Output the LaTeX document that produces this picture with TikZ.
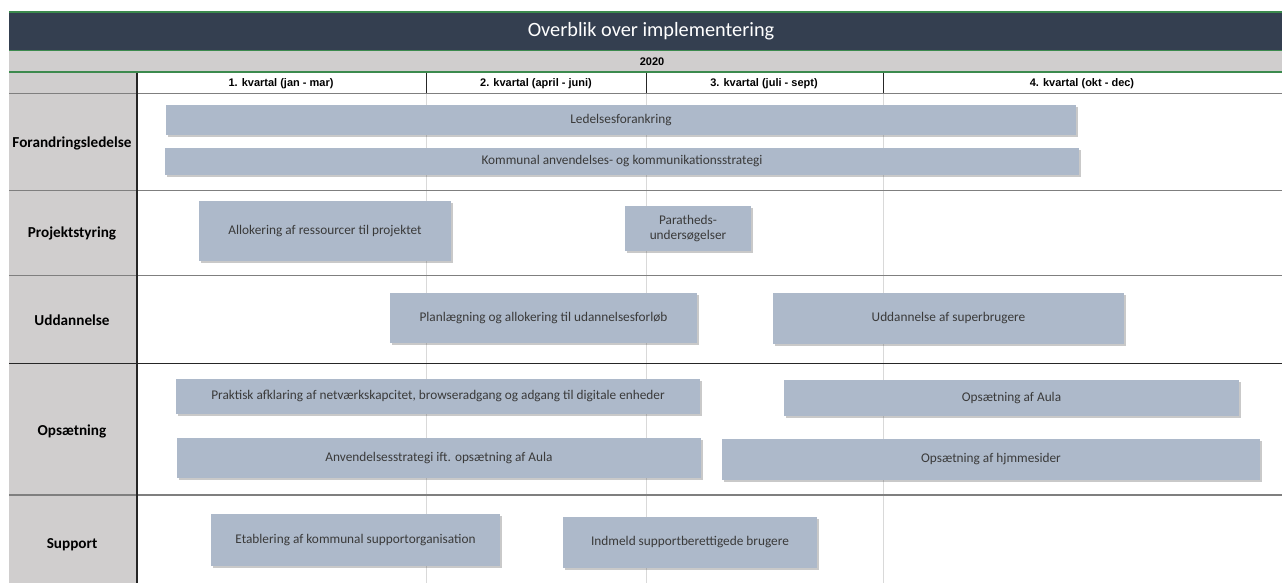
\documentclass[tikz,border=0pt]{standalone}
\usepackage{fontspec}
\setmainfont{Carlito}
\newfontfamily\hdrfont{Liberation Sans}
\usetikzlibrary{shadows}
\definecolor{titlebg}{HTML}{343F50}
\definecolor{gline}{HTML}{3C8A4E}
\definecolor{greybg}{HTML}{D0CECE}
\definecolor{barfill}{HTML}{ADB9CA}
\definecolor{bartext}{HTML}{3A3A3A}
\definecolor{rowline}{HTML}{7F7F7F}
\definecolor{vline}{HTML}{D9D9D9}
\tikzset{
  barbox/.style={draw=none, fill=barfill, inner sep=0pt, align=center, text=bartext,
    font=\fontsize{13.3}{15.5}\selectfont,
    drop shadow={shadow xshift=1.5pt, shadow yshift=-1.8pt, opacity=0.3, fill=black!70}},
  rowlabel/.style={font=\bfseries\fontsize{15.2}{17}\selectfont, text=black, inner sep=0pt},
  qlabel/.style={font=\hdrfont\bfseries\fontsize{11}{12}\selectfont, inner sep=0pt},
  glinestyle/.style={draw=gline, line width=1.4pt},
  rowsep/.style={draw=rowline, line width=1.8pt},
  qsep/.style={draw=vline, line width=1pt}
}
\newcommand{\gbar}[6]{%
  \node[barbox, minimum width={(#4)-(#2)}, minimum height={(#5)-(#3)}] (#1)
    at ({((#2)+(#4))/2},{((#3)+(#5))/2+0.8}) {#6};}
\begin{document}
\begin{tikzpicture}[x=1pt,y=-1pt]
\useasboundingbox (0,0) rectangle (1282,583);
% title
\fill[titlebg] (9,12) rectangle (1282,50);
\draw[glinestyle] (9,12) -- (1282,12);
\draw[glinestyle] (9,50.5) -- (1282,50.5);
\node[text=white, font=\fontsize{20.3}{22}\selectfont, inner sep=0pt] (title) at (651,31) {Overblik over implementering};
% year bar
\fill[greybg] (9,51) rectangle (1282,71.5);
\draw[glinestyle] (9,72) -- (1282,72);
\node[qlabel] (year) at (652,61.5) {2020};
% left column
\fill[greybg] (9,73) rectangle (137,583);
% body vertical quarter lines
\draw[qsep] (426,93) -- (426,583);
\draw[qsep] (646,93) -- (646,583);
\draw[qsep] (883,93) -- (883,583);
% header row separators
\draw[draw=black!85, line width=0.9pt] (426,73) -- (426,93);
\draw[draw=black!85, line width=0.9pt] (646,73) -- (646,93);
\draw[draw=black!85, line width=0.9pt] (883,73) -- (883,93);
\node[qlabel] (q1) at (281,83.5) {1. kvartal (jan - mar)};
\node[qlabel] (q2) at (536,83.5) {2. kvartal (april - juni)};
\node[qlabel] (q3) at (764,83.5) {3. kvartal (juli - sept)};
\node[qlabel] (q4) at (1082,83.5) {4. kvartal (okt - dec)};
% row separators
\draw[rowsep] (9,93.5) -- (1282,93.5);
\draw[rowsep] (9,190.5) -- (1282,190.5);
\draw[rowsep] (9,275.5) -- (1282,275.5);
\draw[draw=black!85, line width=1.4pt] (9,363.5) -- (1282,363.5);
\draw[rowsep] (9,495) -- (1282,495);
% left column vertical line
\draw[draw=black!85, line width=1.2pt] (137,73) -- (137,583);
% row labels
\node[rowlabel] (r1) at (72,143) {Forandringsledelse};
\node[rowlabel] (r2) at (72,233) {Projektstyring};
\node[rowlabel] (r3) at (72,320) {Uddannelse};
\node[rowlabel] (r4) at (72,431) {Opsætning};
\node[rowlabel] (r5) at (72,545) {Support};
% bars
\gbar{b1}{166}{104}{1076}{134}{Ledelsesforankring}
\gbar{b2}{165}{147}{1079}{174}{Kommunal anvendelses- og kommunikationsstrategi}
\gbar{b3}{199}{200}{451}{260}{Allokering af ressourcer til projektet}
\gbar{b4}{625}{205}{751}{250}{Paratheds-\\undersøgelser}
\gbar{b5}{390}{292}{697}{342}{Planlægning og allokering til udannelsesforløb}
\gbar{b6}{773}{292}{1124}{343}{Uddannelse af superbrugere}
\gbar{b7}{176}{378}{700}{413}{Praktisk afklaring af netværkskapcitet, browseradgang og adgang til digitale enheder}
\gbar{b8}{784}{379}{1239}{415}{Opsætning af Aula}
\gbar{b9}{177}{437}{701}{477}{Anvendelsesstrategi ift. opsætning af Aula}
\gbar{b10}{722}{438}{1260}{479}{Opsætning af hjmmesider}
\gbar{b11}{211}{513}{500}{565}{Etablering af kommunal supportorganisation}
\gbar{b12}{563}{516}{817}{567}{Indmeld supportberettigede brugere}
\end{tikzpicture}
\end{document}
